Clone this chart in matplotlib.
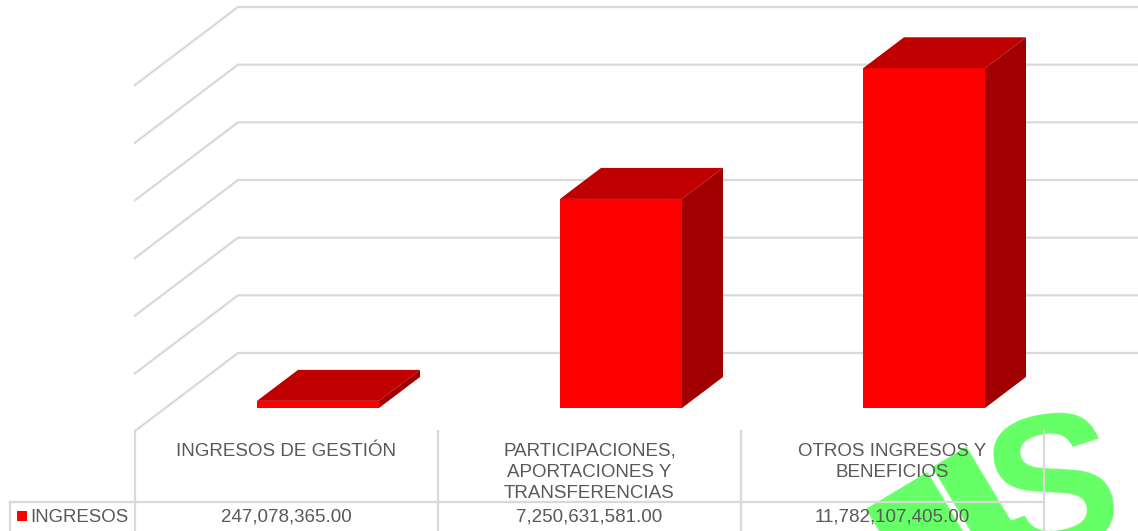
import matplotlib
matplotlib.use('Agg')
import matplotlib.pyplot as plt
from matplotlib.patches import Rectangle

categories = ['INGRESOS DE GESTIÓN',
              'PARTICIPACIONES,\nAPORTACIONES Y\nTRANSFERENCIAS',
              'OTROS INGRESOS Y\nBENEFICIOS']
ingresos = [247078365.00, 7250631581.00, 11782107405.00]
valueLabels = ['247,078,365.00', '7,250,631,581.00', '11,782,107,405.00']
seriesName = 'INGRESOS'
gridValues = [0, 2e9, 4e9, 6e9, 8e9, 10e9, 12e9]
# watermark glyphs that reach into the picture: letter, x, y, rotation, size
stampLetters = ['G', 'I', 'I', 'S']
stampX = [900, 1069, 1045, 1063]
stampY = [672, 768, 612, 548]
stampRot = [35, 31, 31, 10]
stampSize = [150, 360, 200, 140]

figW, figH = 1138, 531
colW = 303.0
pxPerVal = 346.0 / 12e9
base = 408.0  # front of the bars, in pixels from the top

fig = plt.figure(figsize=(figW/100, figH/100), dpi=100)
left = 135.0
ax = fig.add_axes([left/figW, (figH-base)/figH, 3*colW/figW, 12e9*pxPerVal/figH])
ax.set_xlim(-0.5, 2.5)
ax.set_ylim(0, 12e9)
ax.axis('off')


def dxPx(px):
    return px/colW


def dyPx(px):
    return px/pxPerVal


gridColor = '#d9d9d9'
textColor = '#595959'
font = 'Liberation Sans'

# side wall and back wall
floorDrop = dyPx(23)
for v in gridValues:
    ax.plot([-0.5, -0.5+dxPx(103), 2.5+dxPx(120)],
            [v-floorDrop, v+dyPx(55), v+dyPx(55)],
            color=gridColor, lw=1.6, clip_on=False, zorder=2)

# bars, pushed back into the floor a bit
barW = 122/colW
barShift = dxPx(31.5)
depthX, depthY = dxPx(41), dyPx(31)
for i, val in enumerate(ingresos):
    x0, x1 = i-barW/2+barShift, i+barW/2+barShift
    ax.fill([x0, x1, x1, x0], [0, 0, val, val], color='#ff0000', lw=0, zorder=5)
    ax.fill([x0, x1, x1+depthX, x0+depthX],
            [val, val, val+depthY, val+depthY],
            color='#c00000', lw=0, clip_on=False, zorder=5)
    ax.fill([x1, x1+depthX, x1+depthX, x1],
            [0, depthY, val+depthY, val],
            color='#a00000', lw=0, clip_on=False, zorder=5)

# data table under the chart
trans = fig.transFigure


def figX(px):
    return px/figW


def figY(py):
    return 1-py/figH


for k in range(4):
    fig.add_artist(plt.Line2D([figX(left+k*colW)]*2, [figY(431), figY(531)],
                              color=gridColor, lw=1.6, zorder=3))
fig.add_artist(plt.Line2D([figX(10), figX(left+3*colW)], [figY(502)]*2,
                          color=gridColor, lw=1.6, zorder=3))
fig.add_artist(plt.Line2D([figX(10)]*2, [figY(502), figY(531)],
                          color=gridColor, lw=1.6, zorder=3))

for i, cat in enumerate(categories):
    cx = left + (i+0.5)*colW
    fig.text(figX(cx), figY(443), cat, ha='center', va='top', fontsize=13.5,
             color=textColor, family=font, linespacing=1.3, zorder=6)
    fig.text(figX(cx), figY(517), valueLabels[i], ha='center', va='center',
             fontsize=13.5, color=textColor, family=font, zorder=6)

fig.add_artist(Rectangle((figX(17), figY(521)), 10/figW, 10/figH,
                         transform=trans, color='#ff0000', lw=0, zorder=6))
fig.text(figX(30), figY(517), seriesName, ha='left', va='center', fontsize=13.4,
         color=textColor, family=font, zorder=6)

# watermark
for k, letter in enumerate(stampLetters):
    fig.text(figX(stampX[k]), figY(stampY[k]), letter, rotation=stampRot[k],
             rotation_mode='anchor', ha='center', va='baseline',
             fontsize=stampSize[k], fontweight='bold', color='#66ff66',
             family=font, zorder=1)

fig.savefig('out.png', dpi=100)
